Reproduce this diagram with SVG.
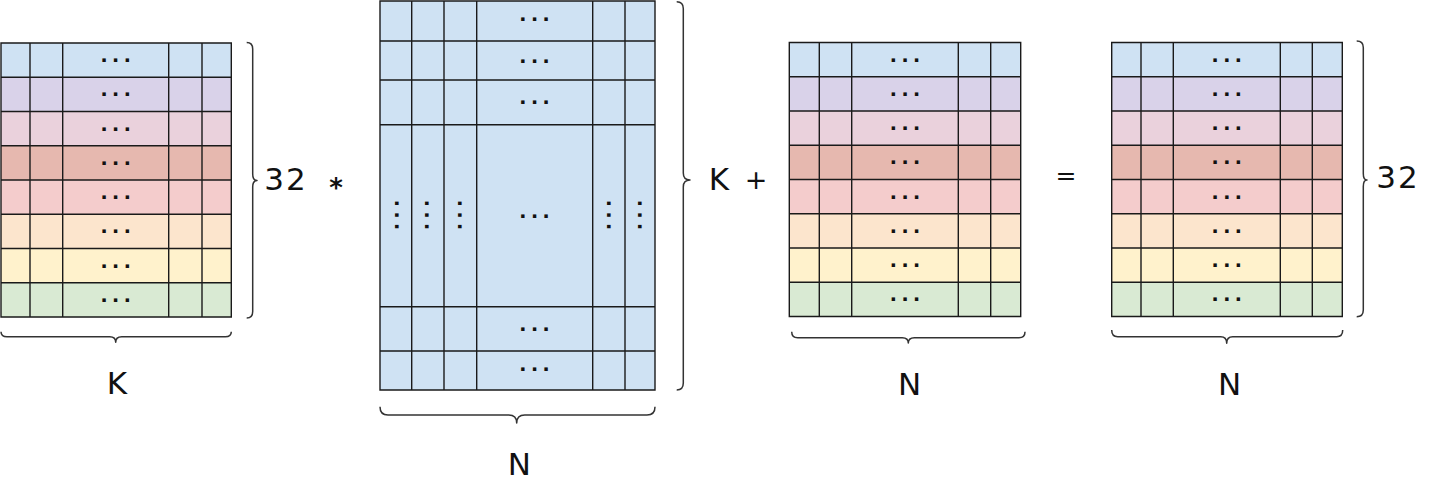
<svg xmlns="http://www.w3.org/2000/svg" width="1440" height="499" viewBox="0 0 1440 499">
<style>
.c0{fill:#cfe2f3}.c1{fill:#d9d2e9}.c2{fill:#ead1dc}.c3{fill:#e6b8af}.c4{fill:#f4cccc}.c5{fill:#fce5cd}.c6{fill:#fff2cc}.c7{fill:#d9ead3}
.grid{stroke:#1a1a1a;stroke-width:1.4;fill:none}
.dots{font-family:"Liberation Sans",Arial,sans-serif;font-weight:bold;font-size:24px;letter-spacing:5px;text-anchor:middle;fill:#111}
.brace{fill:none;stroke:#333;stroke-width:1.5;stroke-linejoin:round}
.lbl{font-family:"DejaVu Sans",sans-serif;font-size:31px;fill:#111;text-anchor:middle}
.op{font-family:"DejaVu Sans",sans-serif;fill:#111;text-anchor:middle}
</style>
<rect width="1440" height="499" fill="#fff"/>

<!-- Matrix A -->
<g id="matrixA">
<rect class="c0" x="1" y="43" width="230.3" height="34.25"/>
<rect class="c1" x="1" y="77.25" width="230.3" height="34.25"/>
<rect class="c2" x="1" y="111.5" width="230.3" height="34.25"/>
<rect class="c3" x="1" y="145.75" width="230.3" height="34.25"/>
<rect class="c4" x="1" y="180" width="230.3" height="34.25"/>
<rect class="c5" x="1" y="214.25" width="230.3" height="34.25"/>
<rect class="c6" x="1" y="248.5" width="230.3" height="34.25"/>
<rect class="c7" x="1" y="282.75" width="230.3" height="34.25"/>
<path class="grid" d="M1,43H231.3V317H1Z M1,77.25H231.3 M1,111.5H231.3 M1,145.75H231.3 M1,180H231.3 M1,214.25H231.3 M1,248.5H231.3 M1,282.75H231.3 M30,43V317 M62.7,43V317 M168.7,43V317 M202,43V317"/>
<text class="dots" x="118.2" y="62">...</text>
<text class="dots" x="118.2" y="96.2">...</text>
<text class="dots" x="118.2" y="130.5">...</text>
<text class="dots" x="118.2" y="164.7">...</text>
<text class="dots" x="118.2" y="199">...</text>
<text class="dots" x="118.2" y="233.2">...</text>
<text class="dots" x="118.2" y="267.5">...</text>
<text class="dots" x="118.2" y="301.7">...</text>
</g>

<!-- Matrix B -->
<g id="matrixB">
<rect class="c0" x="380" y="1" width="275" height="389"/>
<path class="grid" d="M380,1H655V390H380Z M380,41H655 M380,80H655 M380,124.7H655 M380,306.7H655 M380,351H655 M411.7,1V390 M444,1V390 M476.7,1V390 M592.7,1V390 M625,1V390"/>
<text class="dots" x="537" y="20.5">...</text>
<text class="dots" x="537" y="62.5">...</text>
<text class="dots" x="537" y="104">...</text>
<text class="dots" x="537" y="218">...</text>
<text class="dots" x="537" y="331">...</text>
<text class="dots" x="537" y="371">...</text>
<text class="dots" x="399.2" y="216.7" transform="rotate(90 396.7 215)">...</text>
<text class="dots" x="429.2" y="216.7" transform="rotate(90 426.7 215)">...</text>
<text class="dots" x="462.5" y="216.7" transform="rotate(90 460 215)">...</text>
<text class="dots" x="610.8" y="216.7" transform="rotate(90 608.3 215)">...</text>
<text class="dots" x="641.8" y="216.7" transform="rotate(90 639.3 215)">...</text>
</g>

<!-- Matrix C -->
<g id="matrixC">
<rect class="c0" x="789.3" y="42.5" width="231.4" height="34.25"/>
<rect class="c1" x="789.3" y="76.75" width="231.4" height="34.25"/>
<rect class="c2" x="789.3" y="111" width="231.4" height="34.25"/>
<rect class="c3" x="789.3" y="145.25" width="231.4" height="34.25"/>
<rect class="c4" x="789.3" y="179.5" width="231.4" height="34.25"/>
<rect class="c5" x="789.3" y="213.75" width="231.4" height="34.25"/>
<rect class="c6" x="789.3" y="248" width="231.4" height="34.25"/>
<rect class="c7" x="789.3" y="282.25" width="231.4" height="34.25"/>
<path class="grid" d="M789.3,42.5H1020.7V316.5H789.3Z M789.3,76.75H1020.7 M789.3,111H1020.7 M789.3,145.25H1020.7 M789.3,179.5H1020.7 M789.3,213.75H1020.7 M789.3,248H1020.7 M789.3,282.25H1020.7 M819.3,42.5V316.5 M851.7,42.5V316.5 M958.3,42.5V316.5 M990.7,42.5V316.5"/>
<text class="dots" x="907.5" y="61.5">...</text>
<text class="dots" x="907.5" y="95.7">...</text>
<text class="dots" x="907.5" y="130">...</text>
<text class="dots" x="907.5" y="164.2">...</text>
<text class="dots" x="907.5" y="198.5">...</text>
<text class="dots" x="907.5" y="232.7">...</text>
<text class="dots" x="907.5" y="267">...</text>
<text class="dots" x="907.5" y="301.2">...</text>
</g>

<!-- Matrix D -->
<g id="matrixD">
<rect class="c0" x="1111.7" y="42.5" width="230.6" height="34.25"/>
<rect class="c1" x="1111.7" y="76.75" width="230.6" height="34.25"/>
<rect class="c2" x="1111.7" y="111" width="230.6" height="34.25"/>
<rect class="c3" x="1111.7" y="145.25" width="230.6" height="34.25"/>
<rect class="c4" x="1111.7" y="179.5" width="230.6" height="34.25"/>
<rect class="c5" x="1111.7" y="213.75" width="230.6" height="34.25"/>
<rect class="c6" x="1111.7" y="248" width="230.6" height="34.25"/>
<rect class="c7" x="1111.7" y="282.25" width="230.6" height="34.25"/>
<path class="grid" d="M1111.7,42.5H1342.3V316.5H1111.7Z M1111.7,76.75H1342.3 M1111.7,111H1342.3 M1111.7,145.25H1342.3 M1111.7,179.5H1342.3 M1111.7,213.75H1342.3 M1111.7,248H1342.3 M1111.7,282.25H1342.3 M1141,42.5V316.5 M1173.3,42.5V316.5 M1280.3,42.5V316.5 M1312.3,42.5V316.5"/>
<text class="dots" x="1229.3" y="61.5">...</text>
<text class="dots" x="1229.3" y="95.7">...</text>
<text class="dots" x="1229.3" y="130">...</text>
<text class="dots" x="1229.3" y="164.2">...</text>
<text class="dots" x="1229.3" y="198.5">...</text>
<text class="dots" x="1229.3" y="232.7">...</text>
<text class="dots" x="1229.3" y="267">...</text>
<text class="dots" x="1229.3" y="301.2">...</text>
</g>

<!-- Braces -->
<g id="braces">
<path class="brace" d="M246.7,42.5 Q252.7,42.5 252.7,49 L252.7,174 Q252.7,180.5 257,180.5 Q252.7,180.5 252.7,187 L252.7,311.5 Q252.7,318 246.7,318"/>
<path class="brace" d="M1,331.7 Q1,336.7 7,336.7 L109.7,336.7 Q115.7,336.7 115.7,342.3 Q115.7,336.7 121.7,336.7 L225.3,336.7 Q231.3,336.7 231.3,331.7"/>
<path class="brace" d="M676.7,1.7 Q683.3,1.7 683.3,8.5 L683.3,173 Q683.3,180 690,180 Q683.3,180 683.3,187 L683.3,383 Q683.3,390 676.7,390"/>
<path class="brace" d="M380,406.7 Q380,415 388,415 L508.7,415 Q516.7,415 516.7,423 Q516.7,415 524.7,415 L647,415 Q655,415 655,406.7"/>
<path class="brace" d="M791.7,331.7 Q791.7,337.7 797.7,337.7 L902.3,337.7 Q908.3,337.7 908.3,343 Q908.3,337.7 914.3,337.7 L1019,337.7 Q1025,337.7 1025,331.7"/>
<path class="brace" d="M1356.7,41 Q1363.3,41 1363.3,47.5 L1363.3,173.5 Q1363.3,180 1367,180 Q1363.3,180 1363.3,186.5 L1363.3,310 Q1363.3,316.7 1356.7,316.7"/>
<path class="brace" d="M1111.7,330 Q1111.7,336.7 1117.7,336.7 L1220.7,336.7 Q1226.7,336.7 1226.7,343.3 Q1226.7,336.7 1232.7,336.7 L1336.7,336.7 Q1342.7,336.7 1342.7,330"/>
</g>

<g id="labels">
<text class="lbl" x="286" y="190" letter-spacing="2">32</text>
<text class="lbl" x="117" y="394">K</text>
<text class="lbl" x="719" y="190">K</text>
<text class="lbl" x="519.3" y="475">N</text>
<text class="lbl" x="909.7" y="395">N</text>
<text class="lbl" x="1229.7" y="395">N</text>
<text class="lbl" x="1398" y="188" letter-spacing="2">32</text>
<text class="op" x="336" y="197" font-size="26" font-weight="bold">*</text>
<text class="op" x="756" y="189.3" font-size="27">+</text>
<text class="op" x="1066" y="183.7" font-size="25">=</text>
</g>
</svg>
